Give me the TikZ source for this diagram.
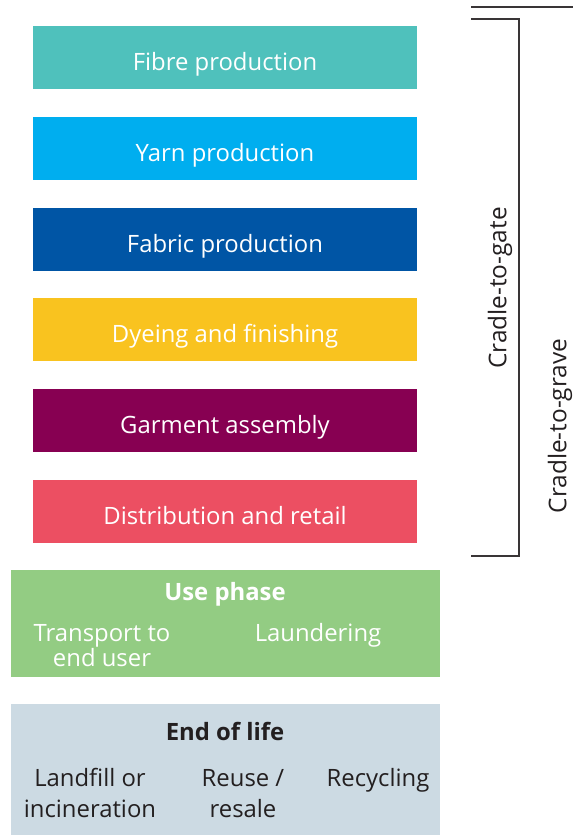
\documentclass[tikz,border=0pt]{standalone}
\usepackage{fontspec}
\setmainfont{Open Sans}
\usepackage{xcolor}
\usetikzlibrary{positioning}
\definecolor{fibrecol}{HTML}{4FC1BC}
\definecolor{yarncol}{HTML}{00AEEF}
\definecolor{fabriccol}{HTML}{0055A5}
\definecolor{dyecol}{HTML}{F9C31F}
\definecolor{garmentcol}{HTML}{870052}
\definecolor{retailcol}{HTML}{EC4F62}
\definecolor{usecol}{HTML}{93CC83}
\definecolor{eolcol}{HTML}{CCDAE3}
\definecolor{inkcol}{HTML}{231F20}

\begin{document}
\begin{tikzpicture}[x=0.75pt, y=-0.75pt, font=\fontsize{17.9}{20}\selectfont]
% Define styles
\tikzstyle{stage} = [rectangle, minimum width=288pt, minimum height=47.25pt, text centered, text=white, inner sep=0pt, text height=19.5pt, text depth=0pt]
\tikzstyle{phase} = [rectangle, minimum width=321.75pt, inner sep=0pt]
\tikzstyle{bracket} = [line width=1pt, draw=inkcol!90]
\tikzstyle{tag} = [text=inkcol, rotate=90, font=\fontsize{18.3}{20}\selectfont]

\useasboundingbox (0,0) rectangle (573,839);

% Place nodes
\node (fibre) [stage, fill=fibrecol] at (225,57.5) {Fibre production};
\node (yarn) [stage, fill=yarncol] at (225,148.5) {Yarn production};
\node (fabric) [stage, fill=fabriccol] at (225,239.5) {Fabric production};
\node (dyeing) [stage, fill=dyecol] at (225,329.5) {Dyeing and finishing};
\node (garment) [stage, fill=garmentcol] at (225,420.5) {Garment assembly};
\node (retail) [stage, fill=retailcol] at (225,511.5) {Distribution and retail};

\node (use) [phase, fill=usecol, minimum height=80.25pt] at (225.5,623.5) {};
\node (usetitle) [text=white, font=\fontsize{17.9}{20}\selectfont\bfseries] at (225,594) {Use phase};
\node (transport) [text=white, align=center, font=\fontsize{17.9}{18.7}\selectfont] at (102,646) {Transport to\\end user};
\node (laundry) [text=white] at (318,635) {Laundering};

\node (eol) [phase, fill=eolcol, minimum height=98.25pt] at (225,769.5) {};
\node (eoltitle) [text=inkcol, font=\fontsize{17.9}{20}\selectfont\bfseries] at (225,731) {End of life};
\node (landfill) [text=inkcol, align=center, font=\fontsize{17.9}{23.2}\selectfont] at (90,793) {Landfill or\\incineration};
\node (reuse) [text=inkcol, align=center, font=\fontsize{17.9}{23.2}\selectfont] at (243,794) {Reuse /\\resale};
\node (recycle) [text=inkcol] at (378,780) {Recycling};

% Brackets
\coordinate (gatetop) at (471,19);
\coordinate (gatebot) at (471,556);
\coordinate (gravetop) at (471,7);
\coordinate (graveend) at (573,7);
\draw [bracket] (gatetop) -- (519,19) -- (519,556) -- (gatebot);
\draw [bracket] (gravetop) -- (graveend);
\node (gate) [tag] at (500,288) {Cradle-to-gate};
\node (grave) [tag] at (560,426) {Cradle-to-grave};
\end{tikzpicture}
\end{document}
